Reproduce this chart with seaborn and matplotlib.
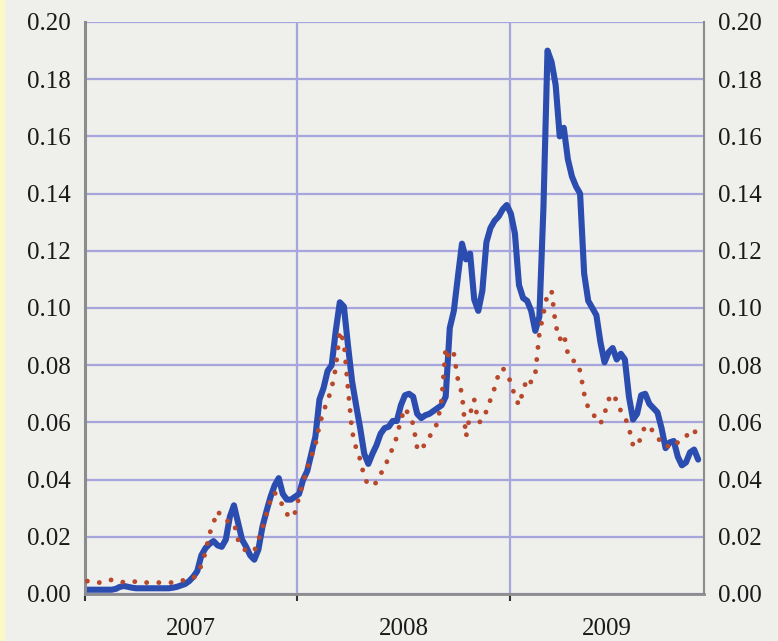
import pandas as pd
import matplotlib
matplotlib.use('Agg')
import matplotlib.pyplot as plt
from matplotlib.patches import Rectangle
import seaborn as sns

start_date = '2007-01-05'
blue_vals = [
    0.0015, 0.0015, 0.0015, 0.0015, 0.0015, 0.0015, 0.0015, 0.0018, 0.0025, 0.0028,
    0.0025, 0.0022, 0.002, 0.002, 0.002, 0.002, 0.002, 0.002, 0.002, 0.002,
    0.002, 0.0022, 0.0025, 0.003, 0.0035, 0.0045, 0.006, 0.008, 0.0135, 0.016,
    0.0175, 0.0185, 0.017, 0.0165, 0.019, 0.027, 0.031, 0.025, 0.019, 0.0165,
    0.0135, 0.012, 0.0155, 0.0235, 0.029, 0.034, 0.038, 0.0405, 0.035, 0.033,
    0.033, 0.034, 0.035, 0.040, 0.043, 0.049, 0.055, 0.068, 0.072, 0.078,
    0.080, 0.092, 0.102, 0.1005, 0.087, 0.0745, 0.066, 0.058, 0.049, 0.0455,
    0.049, 0.052, 0.056, 0.058, 0.0585, 0.0605, 0.0605, 0.066, 0.0695, 0.070,
    0.069, 0.063, 0.0615, 0.0625, 0.063, 0.064, 0.065, 0.066, 0.069, 0.093,
    0.099, 0.111, 0.1225, 0.117, 0.119, 0.103, 0.099, 0.106, 0.123, 0.128,
    0.1305, 0.132, 0.1345, 0.136, 0.133, 0.126, 0.108, 0.1035, 0.1025, 0.099,
    0.092, 0.097, 0.135, 0.190, 0.186, 0.178, 0.160, 0.163, 0.152, 0.146,
    0.1425, 0.140, 0.112, 0.1025, 0.100, 0.0975, 0.088, 0.081, 0.0845, 0.086,
    0.082, 0.084, 0.082, 0.069, 0.061, 0.063, 0.0695, 0.070, 0.0665, 0.065,
    0.0635, 0.058, 0.051, 0.053, 0.0535, 0.048, 0.045, 0.046, 0.0495, 0.0505,
    0.047,
]
red_vals = [
    0.0045, 0.0045, 0.004, 0.004, 0.004, 0.0045, 0.005, 0.005, 0.0045, 0.004,
    0.004, 0.004, 0.0045, 0.0045, 0.004, 0.004, 0.004, 0.004, 0.004, 0.004,
    0.004, 0.004, 0.0045, 0.0045, 0.005, 0.005, 0.0055, 0.007, 0.010, 0.0145,
    0.021, 0.025, 0.029, 0.027, 0.0255, 0.0255, 0.025, 0.019, 0.0165, 0.015,
    0.015, 0.015, 0.019, 0.023, 0.028, 0.033, 0.0355, 0.033, 0.031, 0.028,
    0.0265, 0.0285, 0.034, 0.039, 0.044, 0.048, 0.052, 0.059, 0.064, 0.0675,
    0.072, 0.079, 0.092, 0.088, 0.072, 0.057, 0.051, 0.047, 0.041, 0.038,
    0.038, 0.039, 0.042, 0.044, 0.048, 0.051, 0.055, 0.061, 0.065, 0.0625,
    0.0595, 0.051, 0.050, 0.053, 0.055, 0.057, 0.060, 0.068, 0.086, 0.082,
    0.084, 0.075, 0.070, 0.055, 0.063, 0.068, 0.060, 0.0605, 0.064, 0.068,
    0.072, 0.077, 0.079, 0.077, 0.074, 0.069, 0.066, 0.071, 0.0755, 0.074,
    0.077, 0.091, 0.098, 0.105, 0.106, 0.094, 0.089, 0.091, 0.084, 0.0815,
    0.0815, 0.078, 0.070, 0.065, 0.0635, 0.061, 0.0595, 0.063, 0.068, 0.070,
    0.0675, 0.064, 0.062, 0.058, 0.052, 0.0515, 0.055, 0.059, 0.058, 0.057,
    0.055, 0.0525, 0.0525, 0.051, 0.052, 0.053, 0.0535, 0.055, 0.057, 0.0575,
    0.054,
]
year_labels = ['2007', '2008', '2009']
y_ticks = [0.00, 0.02, 0.04, 0.06, 0.08, 0.10, 0.12, 0.14, 0.16, 0.18, 0.20]

dates = pd.date_range(start_date, periods=len(blue_vals), freq='7D')
df = pd.DataFrame({'date': dates, 'blue': blue_vals, 'red': red_vals})

sns.set_theme(style='white')
plt.rcParams['font.family'] = 'serif'
plt.rcParams['font.serif'] = ['Liberation Serif', 'DejaVu Serif']

bg = '#efefec'
grid_c = '#a6a6dc'
fig = plt.figure(figsize=(7.78, 6.41), dpi=100, facecolor=bg)
fig.patches.append(Rectangle((0, 0), 4 / 778, 1, transform=fig.transFigure,
                             color='#fbf7c6', zorder=0))
ax = fig.add_axes([85 / 778, 47 / 641, 619 / 778, 572 / 641])
ax.set_facecolor(bg)

sns.lineplot(data=df, x='date', y='red', ax=ax, color='#b8482c', lw=3.5,
             linestyle=(0, (0.01, 2.5)), dash_capstyle='round', zorder=3)
sns.lineplot(data=df, x='date', y='blue', ax=ax, color='#2b4db0', lw=4.4,
             solid_joinstyle='round', zorder=2)

x0 = pd.Timestamp('2007-01-01')
x1 = pd.Timestamp('2009-11-30')
ax.set_xlim(x0, x1)
ax.set_ylim(0, 0.2)
ax.set_xlabel('')
ax.set_ylabel('')

# year boundaries as major ticks, labels centred in the visible span of each year
bounds = [pd.Timestamp('2007-01-01'), pd.Timestamp('2008-01-01'), pd.Timestamp('2009-01-01')]
ends = [pd.Timestamp('2008-01-01'), pd.Timestamp('2009-01-01'), x1]
mids = [a + (b - a) / 2 for a, b in zip(bounds, ends)]
ax.set_xticks(bounds)
ax.set_xticklabels([])
ax.set_xticks(mids, minor=True)
ax.set_xticklabels(year_labels, minor=True)
ax.tick_params(axis='x', which='major', direction='out', length=5, width=1.5,
               color='#333333', bottom=True)
ax.tick_params(axis='x', which='minor', length=0, pad=17, labelsize=18,
               labelcolor='#1a1a1a')

ax.set_yticks(y_ticks)
ax.set_yticklabels(['%.2f' % v for v in y_ticks])
ax.tick_params(axis='y', length=0, labelsize=18, labelcolor='#1a1a1a',
               labelleft=True, labelright=True, pad=10)

ax.grid(True, which='major', color=grid_c, lw=1.6)
ax.set_axisbelow(True)

for side in ['left', 'bottom', 'right']:
    ax.spines[side].set_color('#8c8c8c')
ax.spines['left'].set_linewidth(2.2)
ax.spines['bottom'].set_linewidth(2.0)
ax.spines['right'].set_linewidth(1.5)
ax.spines['top'].set_visible(False)

fig.savefig('out.png', dpi=100, facecolor=bg)
